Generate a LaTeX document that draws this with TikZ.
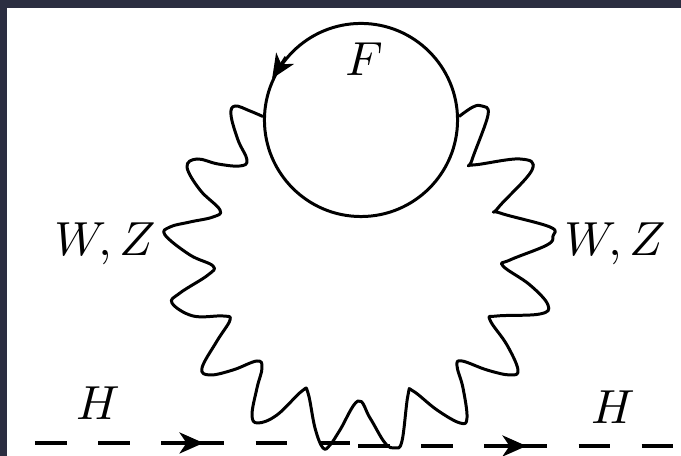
\documentclass[tikz,border=0pt]{standalone}
\usepackage{amsmath}
\usetikzlibrary{arrows.meta, decorations.markings}

\definecolor{slide}{HTML}{2B2E41}

\begin{document}
\begin{tikzpicture}[x=0.01cm, y=-0.01cm]
    \tikzstyle{boson} = [line width=0.85pt, line join=round]
    \tikzstyle{loopline} = [circle, draw=black, line width=0.85pt, minimum size=1.93cm, inner sep=0pt]
    \tikzstyle{particle} = [scale=1.36, transform shape, inner sep=0pt]
    \tikzstyle{scalar} = [line width=1pt, dash pattern=on 0.315cm off 0.315cm on 0.315cm off 0.315cm on 0.63cm off 0.315cm on 0.315cm off 0.315cm on 0.315cm, postaction={decorate},
        decoration={markings, mark=at position 0.535 with {\arrow{Stealth[length=0.24cm, width=0.21cm, inset=0.07cm]}}}]

    % Background
    \fill [slide] (0,0) rectangle (681,456);
    \fill [white] (7,8) rectangle (681,456);
    \useasboundingbox (0,0) rectangle (681,456);

    % Nodes
    \node (f_loop) [loopline] at (361,120) {};
    \node (f_label) [particle] at (364,59) {$F$};
    \node (wz_left) [particle, anchor=base] at (105,256) {$W,Z$};
    \node (wz_right) [particle, anchor=base] at (615,256) {$W,Z$};
    \node (h_left) [particle] at (98,403) {$H$};
    \node (h_right) [particle] at (613,407) {$H$};
    \coordinate (h_in) at (35,443);
    \coordinate (h_vl) at (350,443);
    \coordinate (h_vr) at (358,446);
    \coordinate (h_out) at (673,446);

    % Arrows
    \draw [scalar] (h_in) -- (h_vl);
    \draw [scalar] (h_vr) -- (h_out);
    \draw [line width=0.85pt, -{Stealth[length=0.24cm, width=0.21cm, inset=0.07cm]}] (f_loop.140) -- (f_loop.155);
    \draw [boson] plot [smooth, tension=0.65] coordinates {
        (f_loop.178) (250,111) (235,106) (231,115) (238,140) (247,160) (240,166) (218,164)
        (197,159) (187,167) (200,190) (220,210) (213,217) (190,222) (170,227) (165,235)
        (190,255) (213,266) (208,275) (180,293) (172,303) (193,316) (223,316) (230,320)
        (217,341) (202,368) (210,375) (233,370) (257,361) (262,368) (257,388) (252,415)
        (258,423) (277,415) (302,391) (308,393) (315,428) (323,448) (330,445) (340,430)
        (358,401) (370,418) (385,443) (395,448) (402,441) (408,395) (413,391) (437,410)
        (460,423) (467,418) (463,388) (457,366) (462,361) (487,370) (510,375) (518,370)
        (507,345) (490,320) (497,316) (540,314) (548,305) (530,285) (503,266) (510,260)
        (547,245) (553,236) (550,227) (500,213) (498,208) (532,170) (520,159) (473,165)
        (472,160) (488,115) (482,106) (473,107) (f_loop.2)
    };
\end{tikzpicture}
\end{document}
